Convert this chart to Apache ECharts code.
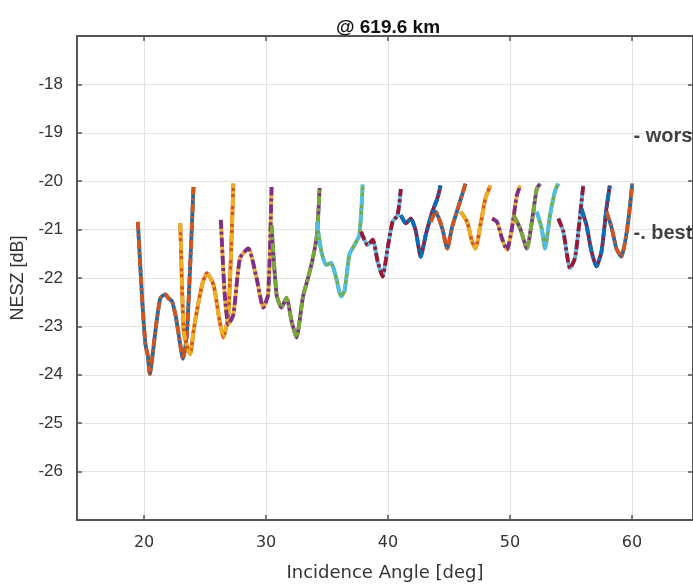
<!DOCTYPE html>
<html>
<head>
<meta charset="utf-8">
<script src="https://cdn.jsdelivr.net/npm/echarts@6/dist/echarts.min.js"></script>
<style>
  html, body { margin: 0; padding: 0; background: #fff; }
  #chart { width: 693px; height: 587px; }
</style>
</head>
<body>
<div id="chart"></div>
<script>
// NESZ per beam, [incidence angle deg, NESZ dB]; worst and best overlap
const beam01 = [[19.49,-20.84],[19.85,-22.48],[20.11,-23.37],[20.3,-23.6],[20.47,-23.98],[20.8,-23.37],[21.0,-22.95],[21.34,-22.41],[21.75,-22.34],[22.0,-22.42],[22.29,-22.48],[22.6,-22.8],[22.83,-23.16],[23.19,-23.67],[23.51,-23.16],[24.05,-20.12]]
const beam02 = [[22.97,-20.87],[23.24,-23.09],[23.5,-23.4],[23.78,-23.57],[24.05,-23.1],[24.33,-22.68],[24.8,-22.1],[25.15,-21.9],[25.69,-22.14],[26.2,-22.9],[26.5,-23.23],[26.91,-22.75],[27.32,-20.05]]
const beam03 = [[26.29,-20.8],[26.6,-22.3],[26.91,-22.96],[27.32,-22.75],[27.86,-21.59],[28.54,-21.39],[29.22,-22.0],[29.77,-22.61],[30.17,-22.34],[30.45,-20.12]]
const beam04 = [[30.45,-20.91],[30.86,-22.34],[31.26,-22.61],[31.67,-22.41],[32.1,-22.9],[32.49,-23.23],[33.03,-22.38],[33.44,-22.0],[33.84,-21.59],[34.17,-21.11],[34.39,-20.14]]
const beam05 = [[34.17,-20.84],[34.53,-21.45],[34.93,-21.73],[35.34,-21.69],[35.75,-22.0],[36.15,-22.38],[36.43,-22.27],[36.83,-21.52],[37.24,-21.32],[37.65,-21.11],[37.92,-20.07]]
const beam06 = [[37.79,-21.04],[38.33,-21.32],[38.74,-21.21],[39.15,-21.66],[39.55,-21.97],[39.96,-21.39],[40.37,-20.84],[40.78,-20.7],[41.05,-20.16]]
const beam07 = [[41.05,-20.7],[41.46,-20.87],[41.87,-20.77],[42.28,-21.04],[42.68,-21.56],[43.09,-21.11],[43.63,-20.63],[44.04,-20.36],[44.31,-20.09]]
const beam08 = [[43.5,-20.84],[43.9,-20.63],[44.45,-20.98],[44.85,-21.39],[45.26,-20.94],[45.8,-20.5],[46.35,-20.05]]
const beam09 = [[45.94,-20.63],[46.48,-20.84],[46.89,-21.25],[47.17,-21.39],[47.57,-20.91],[47.98,-20.36],[48.39,-20.09]]
const beam10 = [[48.53,-20.77],[48.93,-20.84],[49.34,-21.18],[49.75,-21.42],[50.15,-20.98],[50.56,-20.29],[50.84,-20.09]]
const beam11 = [[50.29,-20.7],[50.84,-20.98],[51.38,-21.39],[51.79,-20.84],[52.19,-20.16],[52.47,-20.05]]
const beam12 = [[52.19,-20.63],[52.6,-20.98],[52.87,-21.39],[53.28,-20.7],[53.69,-20.2],[53.96,-20.05]]
const beam13 = [[53.96,-20.77],[54.37,-21.04],[54.92,-21.8],[55.32,-21.59],[55.6,-21.04],[56.0,-20.09]]
const beam14 = [[55.86,-20.57],[56.27,-20.91],[56.68,-21.45],[57.09,-21.76],[57.5,-21.45],[57.9,-20.57],[58.18,-20.09]]
const beam15 = [[57.9,-20.63],[58.31,-20.94],[58.72,-21.39],[59.12,-21.56],[59.53,-21.11],[59.81,-20.57],[60.02,-20.05]]
const beams = [beam01, beam02, beam03, beam04, beam05, beam06, beam07, beam08, beam09, beam10, beam11, beam12, beam13, beam14, beam15]

const xTicks = [20, 30, 40, 50, 60]
const notes = [[60.08, -19.07, '- worst'], [60.08, -21.08, '-. best']]

// matlab colour order
const colorOrder = ['#0072BD', '#D95319', '#EDB120', '#7E2F8E', '#77AC30', '#4DBEEE', '#A2142F']

const axisColor = '#555555'
const textColor = '#333333'
const sans = "'Liberation Sans', Arial, sans-serif"

const series = []
// worst lines first (solid), colour continues into best lines (dash-dot)
beams.forEach((b, i) => {
  series.push({
    name: 'worst' + i,
    type: 'line',
    data: b,
    smooth: 0.2,
    showSymbol: false,
    symbol: 'none',
    lineStyle: { color: colorOrder[i % 7], width: 3.8 },
    z: 2
  })
})
beams.forEach((b, i) => {
  series.push({
    name: 'best' + i,
    type: 'line',
    data: b,
    smooth: 0.2,
    showSymbol: false,
    symbol: 'none',
    lineStyle: { color: colorOrder[(i + beams.length) % 7], width: 3.8, type: [9, 3, 3, 3] },
    z: 3
  })
})
series.push({
  type: 'scatter',
  data: notes.map(n => [n[0], n[1]]),
  symbolSize: 1,
  itemStyle: { color: 'rgba(0,0,0,0)' },
  label: {
    show: true,
    position: 'right',
    distance: 0,
    formatter: p => notes[p.dataIndex][2],
    color: '#111',
    fontWeight: 'bold',
    fontSize: 20,
    fontFamily: sans
  },
  z: 5
})

const xBase = {
  type: 'value',
  min: 14.5,
  max: 65,
  axisLine: { show: true, onZero: false, lineStyle: { color: axisColor, width: 2 } },
  axisTick: { show: true, inside: true, length: 5, customValues: xTicks, lineStyle: { color: axisColor, width: 1.5 } },
  splitLine: { show: false }
}
const yBase = {
  type: 'value',
  min: -27,
  max: -17,
  interval: 1,
  axisLine: { show: true, onZero: false, lineStyle: { color: axisColor, width: 2 } },
  axisTick: { show: true, inside: true, length: 5, lineStyle: { color: axisColor, width: 1.5 } },
  splitLine: { show: false }
}

const option = {
  animation: false,
  backgroundColor: '#ffffff',
  title: {
    text: '@ 619.6 km',
    left: 383,
    textAlign: 'center',
    top: 13,
    textStyle: { fontSize: 19, fontWeight: 'bold', color: '#111', fontFamily: sans }
  },
  grid: { left: 77, right: -2, top: 36, bottom: 63 },
  xAxis: [
    Object.assign({}, xBase, {
      position: 'bottom',
      name: 'Incidence Angle [deg]',
      nameLocation: 'middle',
      nameGap: 44,
      nameTextStyle: { fontSize: 18, color: textColor, fontFamily: 'DejaVu Sans' },
      axisLabel: { show: true, customValues: xTicks, margin: 15, fontSize: 16, color: textColor, fontFamily: 'DejaVu Sans' },
      splitLine: { show: true, lineStyle: { color: '#e3e3e3', width: 1 } }
    }),
    Object.assign({}, xBase, { position: 'top', axisLabel: { show: false } })
  ],
  yAxis: [
    Object.assign({}, yBase, {
      position: 'left',
      name: 'NESZ [dB]',
      nameLocation: 'middle',
      nameGap: 48,
      nameTextStyle: { fontSize: 18, color: textColor, fontFamily: sans },
      axisLabel: { show: true, showMinLabel: false, showMaxLabel: false, margin: 14, fontSize: 17, color: textColor, fontFamily: sans },
      splitLine: { show: true, lineStyle: { color: '#e3e3e3', width: 1 } }
    }),
    Object.assign({}, yBase, { position: 'right', axisLabel: { show: false } })
  ],
  series: series
}

const chart = echarts.init(document.getElementById('chart'))
chart.setOption(option)
</script>
</body>
</html>
